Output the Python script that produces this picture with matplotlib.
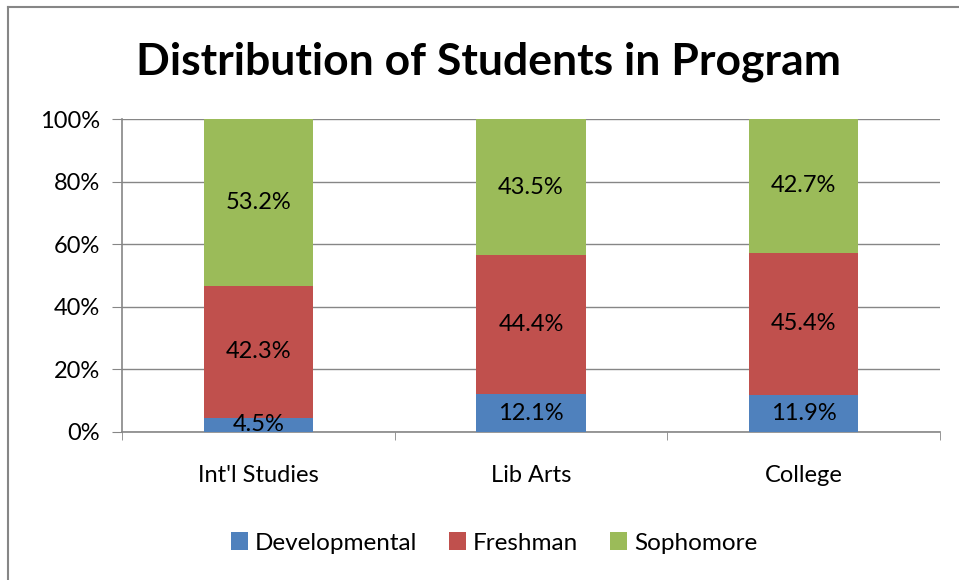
import matplotlib.pyplot as plt
import numpy as np
from matplotlib.lines import Line2D
from matplotlib.patches import Patch

plt.rcParams['font.family'] = ['Lato', 'DejaVu Sans']

programs = ["Int'l Studies", "Lib Arts", "College"]
levels = ["Developmental", "Freshman", "Sophomore"]
developmental = [4.5, 12.1, 11.9]
freshman = [42.3, 44.4, 45.4]
sophomore = [53.2, 43.5, 42.7]
y_ticks = [0, 20, 40, 60, 80, 100]

colors = ['#4F81BD', '#C0504D', '#9BBB59']
grid_col = '#868686'
fs = 17

fig = plt.figure(figsize=(9.59, 5.80), dpi=100)
ax = fig.add_axes([122 / 959, 1 - 432 / 580, 818 / 959, 313 / 580])

x = np.arange(len(programs))
bottom = np.zeros(len(programs))
for vals, col in zip([developmental, freshman, sophomore], colors):
    vals = np.array(vals)
    ax.bar(x, vals, 0.4, bottom=bottom, color=col, zorder=3)
    for xi, b, v in zip(x, bottom, vals):
        ax.text(xi, b + v / 2, f'{v:.1f}%', ha='center', va='center',
                fontsize=fs, color='black', zorder=4)
    bottom += vals

ax.set_xlim(-0.5, 2.5)
ax.set_ylim(0, 100)
ax.set_yticks(y_ticks)
ax.set_yticklabels([f'{t}%' for t in y_ticks], fontsize=fs)
ax.yaxis.grid(True, color=grid_col, linewidth=1, zorder=0)
ax.set_xticks(x)
ax.set_xticklabels(programs, fontsize=fs)
ax.tick_params(axis='x', length=0, pad=24)
ax.tick_params(axis='y', length=7, color=grid_col, direction='out', pad=9)
ax.set_xticks([-0.5, 0.5, 1.5, 2.5], minor=True)
ax.tick_params(axis='x', which='minor', length=6, color=grid_col, direction='out')

for s in ['top', 'right']:
    ax.spines[s].set_visible(False)
for s in ['left', 'bottom']:
    ax.spines[s].set_color(grid_col)
    ax.spines[s].set_linewidth(1.2)

fig.text(488 / 959, 1 - 62 / 580, 'Distribution of Students in Program',
         ha='center', va='center', fontsize=32, fontweight='bold')

handles = [Patch(facecolor=c, label=l) for c, l in zip(colors, levels)]
fig.legend(handles=handles, loc='center', bbox_to_anchor=(494 / 959, 1 - 543 / 580),
           ncol=3, frameon=False, fontsize=17.5, handlelength=0.7, handleheight=0.7,
           handletextpad=0.3, columnspacing=1.3)

# outer chart border
fig.add_artist(Line2D([8 / 959, 8 / 959], [0, 1 - 7 / 580], color=grid_col, lw=1.5,
                      transform=fig.transFigure))
fig.add_artist(Line2D([8 / 959, 1], [1 - 7 / 580, 1 - 7 / 580], color=grid_col, lw=1.5,
                      transform=fig.transFigure))

fig.savefig('out.png', dpi=100)
